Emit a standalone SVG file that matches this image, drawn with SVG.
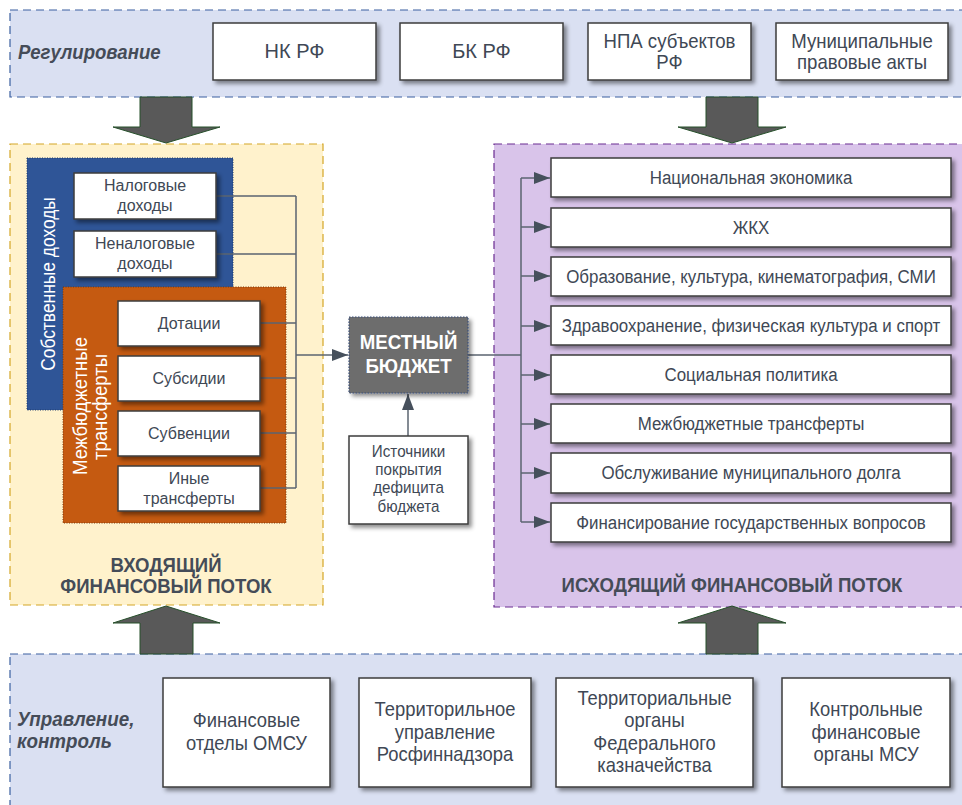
<svg xmlns="http://www.w3.org/2000/svg" width="962" height="805" viewBox="0 0 962 805">
<style>
.t{font-family:"Liberation Sans",Arial,sans-serif;fill:#404855;text-anchor:middle}
.box{fill:#fff;stroke:#3d3d3d;stroke-width:1.5}
.con{fill:none;stroke:#5b6470;stroke-width:1.5}
.big{fill:#595959;stroke:#27502b;stroke-width:1}
.lbl{font-family:"Liberation Sans",Arial,sans-serif;fill:#454c58;font-weight:bold;font-style:italic;font-size:20px}
.ttl{font-family:"Liberation Sans",Arial,sans-serif;fill:#454c58;font-weight:bold;font-size:21px;text-anchor:middle}
.w{font-family:"Liberation Sans",Arial,sans-serif;fill:#fff;text-anchor:middle}
</style>
<defs>
<filter id="sh" x="-10%" y="-10%" width="130%" height="140%">
<feDropShadow dx="3" dy="3" stdDeviation="2" flood-color="#000" flood-opacity="0.45"/>
</filter>
<marker id="ah2" viewBox="0 0 16 12" refX="16" refY="6" markerWidth="16" markerHeight="12" markerUnits="userSpaceOnUse" orient="auto">
<path d="M0,0 L16,6 L0,12 z" fill="#46505c"/>
</marker>
</defs>
<rect width="962" height="805" fill="#fff"/>

<g id="band-regulation">
<rect x="10" y="10" width="965" height="87" fill="#dae0f2" stroke="#3a5fa0" stroke-width="1.2" stroke-dasharray="8,5"/>
<text class="lbl" transform="translate(18,0) scale(0.93,1)" x="0" y="59">Регулирование</text>
</g>
<g id="band-control">
<rect x="10" y="654" width="965" height="165" fill="#dae0f2" stroke="#3a5fa0" stroke-width="1.2" stroke-dasharray="8,5"/>
<text class="lbl" transform="translate(17,0) scale(0.94,1)" x="0" y="726">Управление,</text>
<text class="lbl" transform="translate(17,0) scale(0.94,1)" x="0" y="748">контроль</text>
</g>
<g id="incoming">
<rect x="10" y="144" width="313" height="461" fill="#fff2cc" stroke="#d4a626" stroke-width="1.2" stroke-dasharray="8,5"/>
<g transform="translate(166,0) scale(0.885,1)">
<text class="ttl" x="0" y="572">ВХОДЯЩИЙ</text>
<text class="ttl" x="0" y="593">ФИНАНСОВЫЙ ПОТОК</text>
</g>
</g>
<g id="outgoing">
<rect x="494" y="144" width="480" height="463" fill="#d9c4ea" stroke="#6a2c91" stroke-width="1.2" stroke-dasharray="8,5"/>
<text class="ttl" transform="translate(732,0) scale(0.885,1)" x="0" y="592">ИСХОДЯЩИЙ ФИНАНСОВЫЙ ПОТОК</text>
</g>

<g id="big-arrows">
<polygon class="big" points="140,97 192,97 192,127 220,127 166,143 113,127 140,127"/>
<polygon class="big" points="706,97 758,97 758,127 786,127 732,143 678,127 706,127"/>
<polygon class="big" points="140,654 193,654 193,623 220,623 166,606 113,623 140,623"/>
<polygon class="big" points="706,654 758,654 758,623 786,623 732,606 678,623 706,623"/>
</g>

<g id="own-revenues">
<rect x="27" y="158" width="206" height="252" fill="#2f5597" stroke="#1f3a6a" stroke-width="1" stroke-dasharray="1,1.5"/>
<text class="w" font-size="20" transform="translate(55,284) rotate(-90) scale(0.87,1)">Собственные доходы</text>
</g>
<g id="transfers">
<rect x="63" y="287" width="223" height="236" fill="#c55a11" stroke="#7a3a0c" stroke-width="1" stroke-dasharray="1,1.5"/>
<text class="w" font-size="20" transform="translate(87,406) rotate(-90) scale(0.93,1)">Межбюджетные</text>
<text class="w" font-size="20" transform="translate(107,407) rotate(-90) scale(0.93,1)">трансферты</text>
</g>

<g id="connectors">
<path class="con" d="M216,196 H296 M216,254 H296 M260,323 H296 M260,378 H296 M260,433 H296 M260,488 H296 M296,196 V488"/>
<path class="con" d="M296,355 H348" marker-end="url(#ah2)"/>
<path class="con" d="M408,436 V394" marker-end="url(#ah2)"/>
<path class="con" d="M468,355 H521 M521,178 V522"/>
<path class="con" d="M521,178 H550" marker-end="url(#ah2)"/>
<path class="con" d="M521,227 H550" marker-end="url(#ah2)"/>
<path class="con" d="M521,276 H550" marker-end="url(#ah2)"/>
<path class="con" d="M521,326 H550" marker-end="url(#ah2)"/>
<path class="con" d="M521,375 H550" marker-end="url(#ah2)"/>
<path class="con" d="M521,424 H550" marker-end="url(#ah2)"/>
<path class="con" d="M521,473 H550" marker-end="url(#ah2)"/>
<path class="con" d="M521,522 H550" marker-end="url(#ah2)"/>
</g>

<g id="nk-rf"><rect class="box" filter="url(#sh)" x="213" y="23" width="163" height="57"/><text class="t" font-size="20" x="294.5" y="58">НК РФ</text></g>
<g id="bk-rf"><rect class="box" filter="url(#sh)" x="400" y="23" width="163" height="57"/><text class="t" font-size="20" x="481.5" y="58">БК РФ</text></g>
<g id="npa"><rect class="box" filter="url(#sh)" x="588" y="23" width="163" height="57"/><g transform="translate(669.5,0) scale(0.93,1)"><text class="t" font-size="20" x="0" y="48">НПА субъектов</text><text class="t" font-size="20" x="0" y="69">РФ</text></g></g>
<g id="mpa"><rect class="box" filter="url(#sh)" x="776" y="23" width="172" height="57"/><g transform="translate(862,0) scale(0.93,1)"><text class="t" font-size="20" x="0" y="48">Муниципальные</text><text class="t" font-size="20" x="0" y="69">правовые акты</text></g></g>

<g id="tax"><rect class="box" filter="url(#sh)" x="74" y="173" width="142" height="46"/><text class="t" font-size="16" x="145" y="191">Налоговые</text><text class="t" font-size="16" x="145" y="211">доходы</text></g>
<g id="nontax"><rect class="box" filter="url(#sh)" x="74" y="231" width="142" height="46"/><text class="t" font-size="16" x="145" y="249">Неналоговые</text><text class="t" font-size="16" x="145" y="269">доходы</text></g>
<g id="dotacii"><rect class="box" filter="url(#sh)" x="118" y="301" width="142" height="45"/><text class="t" font-size="16" x="189" y="329">Дотации</text></g>
<g id="subsidii"><rect class="box" filter="url(#sh)" x="118" y="356" width="142" height="45"/><text class="t" font-size="16" x="189" y="384">Субсидии</text></g>
<g id="subvencii"><rect class="box" filter="url(#sh)" x="118" y="411" width="142" height="45"/><text class="t" font-size="16" x="189" y="439">Субвенции</text></g>
<g id="inye"><rect class="box" filter="url(#sh)" x="118" y="466" width="142" height="45"/><text class="t" font-size="16" x="189" y="484">Иные</text><text class="t" font-size="16" x="189" y="504">трансферты</text></g>

<g id="local-budget">
<rect x="349" y="317" width="119" height="76" fill="#6d6d6d" stroke="#3b4f7a" stroke-width="1.2" stroke-dasharray="1.5,1.5" filter="url(#sh)"/>
<g transform="translate(408.5,0) scale(0.89,1)">
<text class="w" font-size="21" font-weight="bold" x="0" y="349">МЕСТНЫЙ</text>
<text class="w" font-size="21" font-weight="bold" x="0" y="373">БЮДЖЕТ</text>
</g>
</g>
<g id="deficit">
<rect class="box" filter="url(#sh)" x="349" y="436" width="119" height="88"/>
<g transform="translate(408.5,0) scale(0.95,1)">
<text class="t" font-size="16" x="0" y="457">Источники</text>
<text class="t" font-size="16" x="0" y="475">покрытия</text>
<text class="t" font-size="16" x="0" y="493">дефицита</text>
<text class="t" font-size="16" x="0" y="512">бюджета</text>
</g>
</g>

<g id="o1"><rect class="box" filter="url(#sh)" x="551" y="158" width="400" height="39"/><text class="t" font-size="19" transform="translate(751,0) scale(0.89,1)" x="0" y="184">Национальная экономика</text></g>
<g id="o2"><rect class="box" filter="url(#sh)" x="551" y="208" width="400" height="39"/><text class="t" font-size="19" transform="translate(751,0) scale(0.89,1)" x="0" y="234">ЖКХ</text></g>
<g id="o3"><rect class="box" filter="url(#sh)" x="551" y="257" width="400" height="39"/><text class="t" font-size="19" transform="translate(751,0) scale(0.89,1)" x="0" y="283">Образование, культура, кинематография, СМИ</text></g>
<g id="o4"><rect class="box" filter="url(#sh)" x="551" y="306" width="400" height="39"/><text class="t" font-size="19" transform="translate(751,0) scale(0.89,1)" x="0" y="332">Здравоохранение, физическая культура и спорт</text></g>
<g id="o5"><rect class="box" filter="url(#sh)" x="551" y="355" width="400" height="39"/><text class="t" font-size="19" transform="translate(751,0) scale(0.89,1)" x="0" y="381">Социальная политика</text></g>
<g id="o6"><rect class="box" filter="url(#sh)" x="551" y="404" width="400" height="39"/><text class="t" font-size="19" transform="translate(751,0) scale(0.89,1)" x="0" y="430">Межбюджетные трансферты</text></g>
<g id="o7"><rect class="box" filter="url(#sh)" x="551" y="453" width="400" height="40"/><text class="t" font-size="19" transform="translate(751,0) scale(0.89,1)" x="0" y="479">Обслуживание муниципального долга</text></g>
<g id="o8"><rect class="box" filter="url(#sh)" x="551" y="503" width="400" height="39"/><text class="t" font-size="19" transform="translate(751,0) scale(0.89,1)" x="0" y="529">Финансирование государственных вопросов</text></g>

<g id="c1"><rect class="box" filter="url(#sh)" x="163" y="678" width="167" height="109"/><g transform="translate(246.5,0) scale(0.92,1)"><text class="t" font-size="20" x="0" y="727">Финансовые</text><text class="t" font-size="20" x="0" y="750">отделы ОМСУ</text></g></g>
<g id="c2"><rect class="box" filter="url(#sh)" x="359" y="678" width="172" height="109"/><g transform="translate(445,0) scale(0.92,1)"><text class="t" font-size="20" x="0" y="716">Территорильное</text><text class="t" font-size="20" x="0" y="739">управление</text><text class="t" font-size="20" x="0" y="761">Росфиннадзора</text></g></g>
<g id="c3"><rect class="box" filter="url(#sh)" x="556" y="678" width="197" height="109"/><g transform="translate(654.5,0) scale(0.92,1)"><text class="t" font-size="20" x="0" y="705">Территориальные</text><text class="t" font-size="20" x="0" y="727">органы</text><text class="t" font-size="20" x="0" y="750">Федерального</text><text class="t" font-size="20" x="0" y="772">казначейства</text></g></g>
<g id="c4"><rect class="box" filter="url(#sh)" x="782" y="678" width="168" height="109"/><g transform="translate(866,0) scale(0.92,1)"><text class="t" font-size="20" x="0" y="716">Контрольные</text><text class="t" font-size="20" x="0" y="739">финансовые</text><text class="t" font-size="20" x="0" y="761">органы МСУ</text></g></g>
</svg>
